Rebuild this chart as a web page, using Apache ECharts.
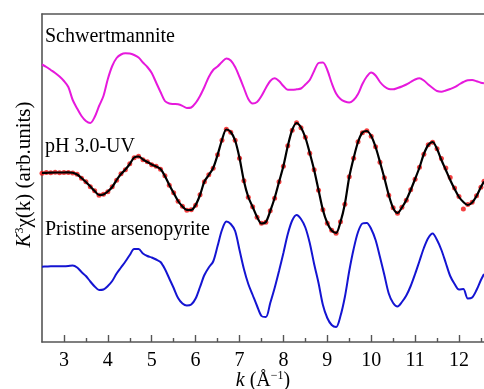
<!DOCTYPE html>
<html>
<head>
<meta charset="utf-8">
<script src="https://cdn.jsdelivr.net/npm/echarts@6/dist/echarts.min.js"></script>
<style>html,body{margin:0;padding:0;background:#fff}#c{width:484px;height:389px}</style>
</head>
<body>
<div id="c"></div>
<script>
// k values (Å^-1)
var kValues = [2.5,2.6,2.7,2.8,2.9,3.0,3.1,3.2,3.3,3.4,3.5,3.6,3.7,3.8,3.9,4.0,4.1,4.2,4.3,4.4,4.5,4.6,4.7,4.8,4.9,5.0,5.1,5.2,5.3,5.4,5.5,5.6,5.7,5.8,5.9,6.0,6.1,6.2,6.3,6.4,6.5,6.6,6.7,6.8,6.9,7.0,7.1,7.2,7.3,7.4,7.5,7.6,7.7,7.8,7.9,8.0,8.1,8.2,8.3,8.4,8.5,8.6,8.7,8.8,8.9,9.0,9.1,9.2,9.3,9.4,9.5,9.6,9.7,9.8,9.9,10.0,10.1,10.2,10.3,10.4,10.5,10.6,10.7,10.8,10.9,11.0,11.1,11.2,11.3,11.4,11.5,11.6,11.7,11.8,11.9,12.0,12.1,12.2,12.3,12.4,12.5,12.57];

// Schwertmannite (offset, arb. units)
var schwertmannite = [27.75,27.50,27.20,26.90,26.55,26.10,25.50,24.20,23.35,22.60,22.10,21.90,22.50,23.60,24.60,26.30,27.60,28.40,28.75,28.87,28.85,28.70,28.45,27.95,27.50,26.90,25.95,25.00,24.10,23.85,23.80,23.77,23.62,23.40,23.45,23.90,24.60,25.50,26.50,27.20,27.55,28.00,28.35,28.15,27.50,26.50,25.40,24.30,23.85,24.00,24.60,25.40,26.10,26.37,26.10,25.60,25.22,25.22,25.27,25.35,25.75,26.20,27.10,27.90,27.95,27.20,25.90,24.85,24.30,24.05,23.95,24.20,24.80,25.80,26.55,26.95,26.65,26.00,25.55,25.30,25.27,25.40,25.55,25.75,26.00,26.25,26.38,26.15,25.75,25.40,25.10,25.03,25.15,25.30,25.48,25.75,26.00,26.17,26.19,26.08,25.93,25.87];

// pH 3.0-UV fit (black line)
var phFit = [16.90,16.92,16.94,16.95,16.95,16.95,16.96,16.92,16.75,16.40,16.00,15.55,15.10,14.70,14.75,15.05,15.50,16.20,16.80,17.25,17.80,18.45,18.55,18.25,18.00,17.75,17.55,17.30,16.60,15.70,14.90,14.10,13.55,13.20,13.20,13.70,14.70,16.05,16.70,17.40,18.70,20.20,21.25,21.00,20.15,18.40,16.10,14.50,13.50,12.50,11.85,12.00,13.10,14.40,16.00,17.60,19.60,21.20,21.90,21.45,20.45,18.90,17.20,15.20,13.20,11.90,11.15,10.90,12.00,13.80,16.50,18.40,20.00,20.95,21.10,20.60,19.50,18.00,16.40,14.70,13.40,12.90,13.45,14.20,15.20,16.30,17.45,18.80,19.70,20.00,19.30,18.20,17.20,16.20,15.30,14.50,14.00,13.70,13.95,14.60,15.50,16.05];

// pH 3.0-UV experimental (red dots)
var phData = [16.88,16.95,16.92,16.97,16.93,16.96,16.94,16.90,16.78,16.38,16.02,15.52,15.12,14.68,14.78,15.02,15.52,16.18,16.82,17.22,17.82,18.42,18.58,18.22,18.02,17.72,17.58,17.28,16.62,15.68,14.92,14.08,13.58,13.18,13.22,13.68,14.72,16.02,16.72,17.38,18.72,20.18,21.28,20.98,20.18,18.38,16.12,14.48,13.52,12.48,11.88,11.98,13.12,14.38,16.02,17.58,19.62,21.18,21.92,21.42,20.48,18.88,17.22,15.18,13.22,11.88,11.18,10.88,12.02,13.78,16.52,18.38,20.02,20.92,21.12,20.58,19.52,17.98,16.42,14.68,13.42,12.88,13.48,14.18,15.22,16.28,17.48,18.78,19.72,19.98,19.32,18.35,17.40,16.45,15.40,14.55,13.30,13.75,13.98,14.62,15.48,16.08];

// Pristine arsenopyrite
var pristine = [7.53,7.55,7.57,7.58,7.58,7.58,7.60,7.64,7.45,7.00,6.60,6.05,5.55,5.20,5.25,5.60,6.10,6.85,7.45,8.05,8.70,9.30,9.30,8.85,8.60,8.45,8.25,8.00,7.30,6.35,5.40,4.40,3.85,3.65,3.75,4.35,5.50,6.70,7.45,8.05,9.60,11.20,12.05,11.80,11.10,9.20,7.30,5.80,4.70,3.60,2.60,2.50,3.90,5.40,7.10,8.90,10.80,12.15,12.70,12.30,11.45,9.90,7.80,5.90,3.70,2.40,1.70,1.50,2.60,4.50,7.10,9.30,11.00,11.85,11.90,11.30,10.20,8.50,6.70,4.85,3.90,3.55,4.00,4.65,5.60,6.80,8.10,9.40,10.40,10.85,10.20,9.20,7.90,6.60,5.80,5.25,5.30,4.35,4.45,5.20,6.20,6.80];

var xTickLabels = [3,4,5,6,7,8,9,10,11,12];
var xMinorTicks = [3.5,4.5,5.5,6.5,7.5,8.5,9.5,10.5,11.5,12.5];

var seriesLabels = ['Schwertmannite', 'pH 3.0-UV', 'Pristine arsenopyrite'];

function pairs(ys){ return kValues.map(function(k,i){ return [k, ys[i]]; }); }

var FONT = '"Liberation Serif", "Times New Roman", serif';
var AX = '#555';

var chart = echarts.init(document.getElementById('c'), null, {renderer:'canvas'});
chart.setOption({
  animation: false,
  backgroundColor: '#fff',
  grid: {left: 42, right: 0, top: 14, bottom: 47, containLabel: false, outerBoundsMode: 'none'},
  xAxis: [
    {
      type: 'value', min: 2.5, max: 12.57, position: 'bottom',
      axisLine: {show: true, onZero: false, lineStyle: {color: AX, width: 1.6}},
      axisTick: {show: true, inside: true, length: 7, customValues: xTickLabels, lineStyle: {color: AX, width: 1.4}},
      axisLabel: {show: true, customValues: xTickLabels, margin: 9, color: '#000', fontSize: 20, fontFamily: FONT},
      splitLine: {show: false},
      name: '{i|k}{n| (Å}{s|−1}{n|)}',
      nameLocation: 'middle', nameGap: 28, nameMoveOverlap: false,
      nameTextStyle: {
        rich: {
          i: {fontStyle: 'italic', fontSize: 20, fontFamily: FONT, color: '#000'},
          n: {fontSize: 20, fontFamily: FONT, color: '#000'},
          s: {fontSize: 12, fontFamily: FONT, color: '#000', padding: [0, 0, 9, 0]}
        }
      }
    },
    {
      type: 'value', min: 2.5, max: 12.57, position: 'bottom',
      axisLine: {show: false},
      axisTick: {show: true, inside: true, length: 4, customValues: xMinorTicks, lineStyle: {color: AX, width: 1.4}},
      axisLabel: {show: false},
      splitLine: {show: false}
    },
    {
      type: 'value', min: 2.5, max: 12.57, position: 'top',
      axisLine: {show: true, onZero: false, lineStyle: {color: AX, width: 1.6}},
      axisTick: {show: false}, axisLabel: {show: false}, splitLine: {show: false}
    }
  ],
  yAxis: {
    type: 'value', min: 0, max: 32.8,
    axisLine: {show: true, onZero: false, lineStyle: {color: AX, width: 1.6}},
    axisTick: {show: false}, axisLabel: {show: false}, splitLine: {show: false},
    name: '{i|K}{s|3}{n|χ(k) (arb.units)}',
    nameLocation: 'middle', nameGap: 7, nameRotate: 90, nameMoveOverlap: false,
    nameTextStyle: {
      padding: [0, 0, 0, 7],
      rich: {
        i: {fontStyle: 'italic', fontSize: 21, fontFamily: FONT, color: '#000'},
        n: {fontSize: 21, fontFamily: FONT, color: '#000'},
        s: {fontSize: 12, fontFamily: FONT, color: '#000', padding: [0, 0, 9, 0]}
      }
    }
  },
  series: [
    {type: 'line', name: seriesLabels[0], data: pairs(schwertmannite), showSymbol: false, smooth: 0.3,
     lineStyle: {color: '#e619dc', width: 2}, itemStyle: {color: '#e619dc'}},
    {type: 'scatter', name: seriesLabels[1] + ' data', data: pairs(phData), symbolSize: 5,
     itemStyle: {color: '#f01212'}, z: 2},
    {type: 'line', name: seriesLabels[1], data: pairs(phFit), showSymbol: false, smooth: 0.3,
     lineStyle: {color: '#000', width: 2.2}, itemStyle: {color: '#000'}, z: 3},
    {type: 'line', name: seriesLabels[2], data: pairs(pristine), showSymbol: false, smooth: 0.3,
     lineStyle: {color: '#1414d2', width: 2}, itemStyle: {color: '#1414d2'}}
  ],
  graphic: [
    {type: 'text', left: 45, top: 27, style: {text: seriesLabels[0], font: '20px ' + FONT, fill: '#000'}},
    {type: 'text', left: 45, top: 137, style: {text: seriesLabels[1], font: '20px ' + FONT, fill: '#000'}},
    {type: 'text', left: 45, top: 220, style: {text: seriesLabels[2], font: '20px ' + FONT, fill: '#000'}}
  ]
});
</script>
</body>
</html>
